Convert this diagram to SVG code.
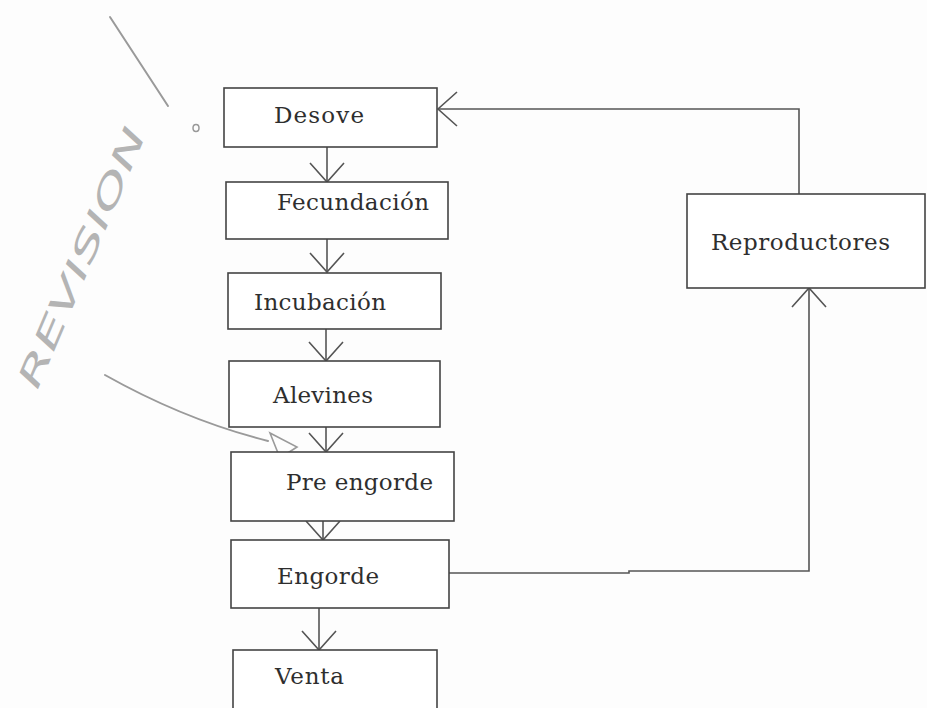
<svg xmlns="http://www.w3.org/2000/svg" width="927" height="708" viewBox="0 0 927 708">
<style>
.box{fill:#fff;stroke:#444;stroke-width:1.6}
.lbl{font-family:"DejaVu Serif","Liberation Serif",serif;font-size:23px;fill:#2e2e2e}
.con{fill:none;stroke:#555;stroke-width:1.6}
.hand{fill:none;stroke:#9a9a9a;stroke-width:2;stroke-linecap:round}
.htxt{font-family:"DejaVu Sans","Liberation Sans",sans-serif;font-size:32px;font-style:italic;fill:#b4b4b4}
</style>
<defs>
<marker id="v" markerUnits="userSpaceOnUse" markerWidth="24" markerHeight="40" viewBox="-22 -20 24 40" refX="0" refY="0" orient="auto" overflow="visible">
<path d="M-19,-17 L0,0 L-19,17" fill="none" stroke="#555" stroke-width="1.6"/>
</marker>
</defs>
<rect width="927" height="708" fill="#fdfdfd"/>

<g id="annotations">
<line class="hand" x1="110" y1="17" x2="168" y2="106"/>
<ellipse cx="196" cy="128" rx="3" ry="3.5" fill="none" stroke="#999" stroke-width="1.5"/>
<text class="htxt" transform="translate(92,262) rotate(-67)" text-anchor="middle" textLength="280" lengthAdjust="spacingAndGlyphs">REVISION</text>
<path class="hand" d="M105,375 Q185,420 268,441"/>
<polygon points="270,433 297,447 280,458" fill="none" stroke="#9a9a9a" stroke-width="1.6"/>
</g>

<g id="connectors">
<path class="con" d="M327,147 V182" marker-end="url(#v)"/>
<path class="con" d="M327,239 V272" marker-end="url(#v)"/>
<path class="con" d="M326,329 V361" marker-end="url(#v)"/>
<path class="con" d="M326,427 V452" marker-end="url(#v)"/>
<path class="con" d="M323,521 V540" marker-end="url(#v)"/>
<path class="con" d="M319,608 V650" marker-end="url(#v)"/>
<path class="con" d="M449,573 H629 V571 H809 V288" marker-end="url(#v)"/>
<path class="con" d="M799,194 V109 H438" marker-end="url(#v)"/>
</g>

<g id="desove"><rect class="box" x="224" y="88" width="213" height="59"/><text class="lbl" x="274" y="123" textLength="90" lengthAdjust="spacing">Desove</text></g>
<g id="fecundacion"><rect class="box" x="226" y="182" width="222" height="57"/><text class="lbl" x="277" y="210" textLength="152" lengthAdjust="spacing">Fecundación</text></g>
<g id="incubacion"><rect class="box" x="228" y="273" width="213" height="56"/><text class="lbl" x="254" y="310" textLength="132" lengthAdjust="spacing">Incubación</text></g>
<g id="alevines"><rect class="box" x="229" y="361" width="211" height="66"/><text class="lbl" x="273" y="403" textLength="100" lengthAdjust="spacing">Alevines</text></g>
<g id="preengorde"><rect class="box" x="231" y="452" width="223" height="69"/><text class="lbl" x="286" y="490" textLength="147" lengthAdjust="spacing">Pre engorde</text></g>
<g id="engorde"><rect class="box" x="231" y="540" width="218" height="68"/><text class="lbl" x="277" y="584" textLength="102" lengthAdjust="spacing">Engorde</text></g>
<g id="venta"><rect class="box" x="233" y="650" width="204" height="70"/><text class="lbl" x="275" y="684" textLength="69" lengthAdjust="spacing">Venta</text></g>
<g id="reproductores"><rect class="box" x="687" y="194" width="238" height="94"/><text class="lbl" x="711" y="250" textLength="179" lengthAdjust="spacing">Reproductores</text></g>
</svg>
